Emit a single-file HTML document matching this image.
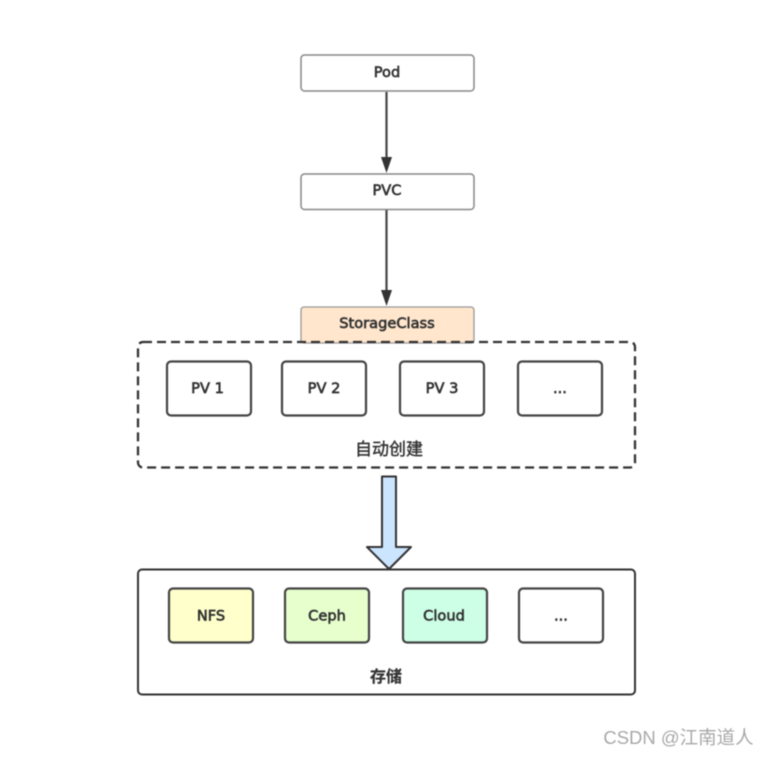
<!DOCTYPE html>
<html>
<head>
<meta charset="utf-8">
<style>
html,body{margin:0;padding:0;background:#fff;width:770px;height:757px;overflow:hidden}
svg{display:block;filter:blur(0.45px)}
text{font-family:"DejaVu Sans","Noto Sans CJK SC",sans-serif;fill:#333;text-anchor:middle;font-weight:normal;font-size:14.6px;stroke:#333;stroke-width:0.65px}
text.cjk{font-family:"Liberation Sans","Noto Sans CJK SC",sans-serif}
</style>
</head>
<body>
<svg width="770" height="757" viewBox="0 0 770 757" xmlns="http://www.w3.org/2000/svg">
  <!-- connectors -->
  <line x1="386.500" y1="92" x2="386.500" y2="158" stroke="#444" stroke-width="2.200"/>
  <polygon points="381,157 392,157 386.500,173" fill="#333"/>
  <line x1="386.500" y1="210" x2="386.500" y2="291" stroke="#444" stroke-width="2.200"/>
  <polygon points="381,290 392,290 386.500,306" fill="#333"/>

  <!-- top boxes -->
  <rect x="301" y="55" width="173" height="36" rx="3.500" fill="#fff" stroke="#888" stroke-width="1.500"/>
  <text x="387" y="77">Pod</text>
  <rect x="301" y="174" width="173" height="35.500" rx="3.500" fill="#fff" stroke="#888" stroke-width="1.500"/>
  <text x="387" y="195">PVC</text>
  <rect x="301" y="307" width="173" height="36" rx="3" fill="#ffe6cc" stroke="#999" stroke-width="1.300"/>
  <text x="387" y="328">StorageClass</text>

  <!-- dashed container -->
  <rect x="138" y="342" width="497" height="125.500" rx="5" fill="none" stroke="#333" stroke-width="2.300" stroke-dasharray="9 5"/>
  <rect x="167" y="361.500" width="84" height="54" rx="4" fill="#fff" stroke="#444" stroke-width="2.200"/>
  <text x="207.500" y="393">PV 1</text>
  <rect x="282" y="361.500" width="84" height="54" rx="4" fill="#fff" stroke="#444" stroke-width="2.200"/>
  <text x="324" y="393">PV 2</text>
  <rect x="400" y="361.500" width="84" height="54" rx="4" fill="#fff" stroke="#444" stroke-width="2.200"/>
  <text x="442" y="393">PV 3</text>
  <rect x="518" y="361.500" width="84" height="54" rx="4" fill="#fff" stroke="#444" stroke-width="2.200"/>
  <text x="560" y="393">...</text>
  <text class="cjk" x="389" y="455" style="font-size:17px;stroke-width:0.4px">自动创建</text>

  <!-- block arrow -->
  <polygon points="382,476.500 396,476.500 396,547 411,547 389,569 367,547 382,547" fill="#cce5ff" stroke="#333" stroke-width="2" stroke-linejoin="round"/>

  <!-- solid container -->
  <rect x="138" y="569.500" width="497" height="125" rx="4" fill="none" stroke="#333" stroke-width="2"/>
  <rect x="169" y="588.500" width="84" height="54" rx="4" fill="#ffffcc" stroke="#444" stroke-width="2.200"/>
  <text x="211" y="620.500">NFS</text>
  <rect x="285" y="588.500" width="84" height="54" rx="4" fill="#e6ffcc" stroke="#444" stroke-width="2.200"/>
  <text x="327" y="620.500">Ceph</text>
  <rect x="403" y="588.500" width="84" height="54" rx="4" fill="#ccffe6" stroke="#444" stroke-width="2.200"/>
  <text x="444" y="620.500">Cloud</text>
  <rect x="519" y="588.500" width="84" height="54" rx="4" fill="#fff" stroke="#444" stroke-width="2.200"/>
  <text x="561" y="620.500">...</text>
  <text class="cjk" x="386" y="682" style="font-size:16px;font-weight:bold;stroke-width:0.2px">存储</text>

  <!-- watermark -->
  <text class="cjk" x="678.500" y="744" style="font-size:18.500px;fill:#a8a8a8;stroke-width:0">CSDN @江南道人</text>
</svg>
</body>
</html>
